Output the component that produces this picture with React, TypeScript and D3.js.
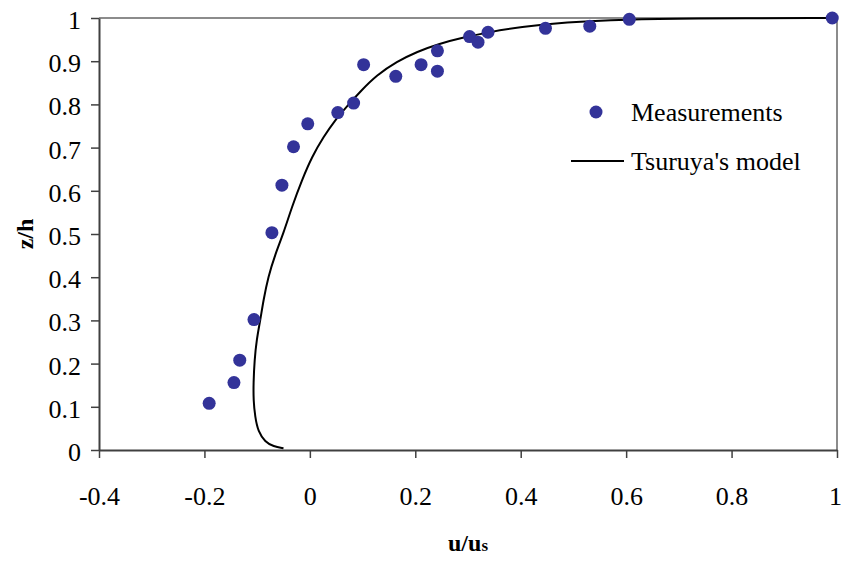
import { select, axisBottom, axisLeft, scaleLinear, line, curveBasis } from "d3";
import React, { useEffect, useRef } from "react";

// measured points (u/us, z/h)
const measU = [-0.191, -0.144, -0.133, -0.106, -0.072, -0.053, -0.031, -0.004, 0.053, 0.083, 0.102, 0.163, 0.211, 0.242, 0.242, 0.303, 0.319, 0.338, 0.447, 0.531, 0.606, 0.991];
const measZ = [0.108, 0.156, 0.208, 0.302, 0.503, 0.613, 0.702, 0.755, 0.781, 0.803, 0.892, 0.865, 0.892, 0.924, 0.877, 0.957, 0.944, 0.967, 0.976, 0.981, 0.997, 1.0];

// Tsuruya's model curve
const modelU = [-0.05, -0.069, -0.085, -0.098, -0.104, -0.107, -0.107, -0.105, -0.101, -0.094, -0.088, -0.079, -0.066, -0.05, -0.034, -0.015, 0.004, 0.026, 0.048, 0.07, 0.095, 0.127, 0.165, 0.203, 0.247, 0.285, 0.342, 0.399, 0.481, 0.608, 0.703, 1.0];
const modelZ = [0.004, 0.008, 0.019, 0.042, 0.077, 0.116, 0.154, 0.208, 0.255, 0.301, 0.347, 0.401, 0.452, 0.502, 0.563, 0.625, 0.679, 0.725, 0.764, 0.795, 0.829, 0.868, 0.899, 0.922, 0.941, 0.953, 0.968, 0.979, 0.99, 0.997, 0.999, 1.0];

const xTicks = [-0.4, -0.2, 0, 0.2, 0.4, 0.6, 0.8, 1];
const yTicks = [0, 0.1, 0.2, 0.3, 0.4, 0.5, 0.6, 0.7, 0.8, 0.9, 1];

const FONT = "Liberation Serif, Times New Roman, serif";
const DOT = "#333399";

export default function App() {
    const svgRef = useRef<SVGSVGElement>(null);

    useEffect(() => {
        const svg = select(svgRef.current);
        svg.selectAll("*").remove();

        const x = scaleLinear().domain([-0.4, 1]).range([99, 837]);
        const y = scaleLinear().domain([0, 1]).range([450, 18]);

        // top / right border
        svg.append("path")
            .attr("d", `M${x(-0.4)},${y(1)}H${x(1)}V${y(0)}`)
            .attr("fill", "none")
            .attr("stroke", "#8c8c8c")
            .attr("stroke-width", 2);

        // axes
        const gx = svg.append("g")
            .attr("transform", `translate(0,${y(0)})`)
            .call(axisBottom(x).tickValues(xTicks).tickSize(8).tickSizeOuter(0).tickFormat((d) => String(d)));
        const gy = svg.append("g")
            .attr("transform", `translate(${x(-0.4)},0)`)
            .call(axisLeft(y).tickValues(yTicks).tickSize(8).tickSizeOuter(0).tickFormat((d) => String(d)));

        [gx, gy].forEach((g) => {
            g.attr("font-family", null).attr("font-size", null);
            g.select(".domain").attr("stroke", "#404040").attr("stroke-width", 2);
            g.selectAll(".tick line").attr("stroke", "#404040").attr("stroke-width", 1.5);
            g.selectAll(".tick text")
                .style("font-family", FONT)
                .attr("font-size", 26)
                .attr("fill", "#000");
        });
        // last label sits right at the edge, pull it in a touch
        gx.selectAll(".tick text")
            .attr("y", 0)
            .attr("dy", 0)
            .attr("transform", (d) => (d === 1 ? "translate(-2,55)" : "translate(0,55)"));
        gy.selectAll(".tick text").attr("x", -18).attr("dy", "0.4em");

        // model line
        const pts = modelU.map((u, i) => [u, modelZ[i]] as [number, number]);
        svg.append("path")
            .datum(pts)
            .attr("fill", "none")
            .attr("stroke", "#000")
            .attr("stroke-width", 2)
            .attr("d", line<[number, number]>().x((d) => x(d[0])).y((d) => y(d[1])).curve(curveBasis));

        // measurements
        svg.selectAll(".dot")
            .data(measU.map((u, i) => [u, measZ[i]]))
            .join("circle")
            .attr("class", "dot")
            .attr("cx", (d) => x(d[0]))
            .attr("cy", (d) => y(d[1]))
            .attr("r", 6.5)
            .attr("fill", DOT);

        // legend
        const lg = svg.append("g").style("font-family", FONT).attr("font-size", 26);
        lg.append("circle").attr("cx", 596).attr("cy", 112).attr("r", 6.5).attr("fill", DOT);
        lg.append("text").attr("x", 631).attr("y", 121).text("Measurements");
        lg.append("line").attr("x1", 571).attr("x2", 624).attr("y1", 161).attr("y2", 161).attr("stroke", "#000").attr("stroke-width", 2);
        lg.append("text").attr("x", 631).attr("y", 170).text("Tsuruya's model");

        // axis titles
        const xt = svg.append("text")
            .attr("x", (x(-0.4) + x(1)) / 2)
            .attr("y", 551)
            .attr("text-anchor", "middle")
            .style("font-family", FONT)
            .attr("font-weight", "bold")
            .attr("font-size", 24);
        xt.append("tspan").text("u/u");
        xt.append("tspan").attr("font-size", 17).text("s");

        svg.append("text")
            .attr("transform", `translate(33,${(y(0) + y(1)) / 2}) rotate(-90)`)
            .attr("text-anchor", "middle")
            .style("font-family", FONT)
            .attr("font-weight", "bold")
            .attr("font-size", 24)
            .text("z/h");
    }, []);

    return (
        <svg ref={svgRef} width={841} height={563} style={{ position: "absolute", left: 0, top: 0, background: "#fff" }} />
    );
}
